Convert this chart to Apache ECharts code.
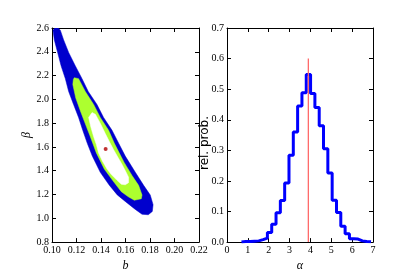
<!DOCTYPE html>
<html><head><meta charset="utf-8">
<script src="https://cdn.jsdelivr.net/npm/echarts@6/dist/echarts.min.js"></script>
<style>html,body{margin:0;padding:0;background:#fff}#c{width:415px;height:277px}</style>
</head><body><div id="c"></div>
<script>
// ---- left panel: confidence contours in (b, beta) ----
const contourOuter = [
  [0.1051,2.600],[0.1068,2.581],[0.1095,2.500],[0.1136,2.394],[0.1190,2.282],[0.1245,2.174],
  [0.1296,2.066],[0.1367,1.957],[0.1421,1.848],[0.1490,1.740],[0.1544,1.631],[0.1598,1.523],
  [0.1680,1.387],[0.1748,1.277],[0.1802,1.196],[0.1825,1.115],[0.1819,1.058],[0.1786,1.030],
  [0.1735,1.034],[0.1680,1.075],[0.1598,1.142],[0.1533,1.197],[0.1468,1.278],[0.1394,1.387],
  [0.1329,1.523],[0.1288,1.631],[0.1251,1.740],[0.1217,1.848],[0.1176,1.957],[0.1136,2.066],
  [0.1109,2.174],[0.1074,2.282],[0.1046,2.394],[0.1019,2.500],[0.1008,2.581],[0.1023,2.600]
];
const contourMiddle = [
  [0.1182,2.182],[0.1217,2.174],[0.1272,2.066],[0.1340,1.957],[0.1394,1.848],[0.1462,1.740],
  [0.1509,1.631],[0.1562,1.523],[0.1590,1.468],[0.1653,1.360],[0.1707,1.277],[0.1735,1.196],
  [0.1729,1.164],[0.1672,1.152],[0.1623,1.181],[0.1566,1.224],[0.1505,1.305],[0.1427,1.414],
  [0.1362,1.550],[0.1313,1.686],[0.1272,1.794],[0.1231,1.905],[0.1194,2.011],[0.1170,2.125],
  [0.1174,2.166]
];
const contourInner = [
  [0.1327,1.889],[0.1354,1.875],[0.1394,1.800],[0.1435,1.712],[0.1468,1.645],[0.1503,1.577],
  [0.1537,1.515],[0.1571,1.455],[0.1598,1.401],[0.1625,1.346],[0.1625,1.300],[0.1598,1.282],
  [0.1566,1.286],[0.1531,1.319],[0.1484,1.368],[0.1449,1.414],[0.1411,1.482],[0.1380,1.550],
  [0.1362,1.620],[0.1340,1.686],[0.1317,1.767],[0.1299,1.848]
];
const bestFit = [0.1438, 1.582];
const bTickLabels = ['0.10','0.12','0.14','0.16','0.18','0.20','0.22'];
const betaTickLabels = ['0.8','1.0','1.2','1.4','1.6','1.8','2.0','2.2','2.4','2.6'];

// ---- right panel: histogram of alpha ----
const histStart = 0.695;
const histBinWidth = 0.207;
const histValues = [0.002,0.002,0.003,0.004,0.008,0.013,0.031,0.058,0.096,0.136,
                    0.193,0.284,0.360,0.445,0.488,0.548,0.486,0.440,0.380,0.305,
                    0.226,0.137,0.097,0.052,0.027,0.011,0.010,0.004,0.002,0.001];
const alphaBest = 3.9;
const alphaLineTop = 0.6;
const alphaTickLabels = ['0','1','2','3','4','5','6','7'];
const probTickLabels = ['0.0','0.1','0.2','0.3','0.4','0.5','0.6','0.7'];

const stepPts = [[histStart, 0]];
histValues.forEach((v, i) => {
  stepPts.push([histStart + i * histBinWidth, v]);
  stepPts.push([histStart + (i + 1) * histBinWidth, v]);
});
stepPts.push([histStart + histValues.length * histBinWidth, 0]);

const serif = 'Liberation Serif';
const lblStyle = {fontFamily: serif, fontSize: 10, color: '#000'};
const axLine = {show: true, onZero: false, lineStyle: {color: '#000', width: 1}};
const tick = {show: true, inside: true, length: 4, lineStyle: {color: '#000', width: 1}};

function mkX(grid, min, max, interval, labels, pos, name) {
  return {
    type: 'value', gridIndex: grid, min: min, max: max, interval: interval, position: pos,
    axisLine: axLine, axisTick: tick, splitLine: {show: false},
    axisLabel: pos === 'bottom' ? Object.assign({show: true, margin: 3,
      formatter: v => labels[Math.round((v - min) / interval)] || ''}, lblStyle) : {show: false},
    name: name || '', nameLocation: 'middle', nameGap: 8,
    nameTextStyle: {fontFamily: serif, fontStyle: 'italic', fontSize: 12, color: '#000'}
  };
}
function mkY(grid, min, max, interval, labels, pos, name, nameStyle, gap) {
  return {
    type: 'value', gridIndex: grid, min: min, max: max, interval: interval, position: pos,
    axisLine: axLine, axisTick: tick, splitLine: {show: false},
    axisLabel: pos === 'left' ? Object.assign({show: true, margin: 3,
      formatter: v => labels[Math.round((v - min) / interval)] || ''}, lblStyle) : {show: false},
    name: name || '', nameLocation: 'middle', nameGap: gap || 15,
    nameTextStyle: nameStyle
  };
}

function polySeries(poly, color, z) {
  return {
    type: 'custom', xAxisIndex: 0, yAxisIndex: 0, clip: true, z: z, silent: true,
    data: [[poly[0][0], poly[0][1]]],
    renderItem: (params, api) => ({
      type: 'polygon',
      shape: {points: poly.map(p => api.coord(p))},
      style: {fill: color, stroke: color, lineWidth: 0.5}
    })
  };
}

const chart = echarts.init(document.getElementById('c'), null, {renderer: 'canvas'});
chart.setOption({
  animation: false,
  backgroundColor: '#fff',
  grid: [
    {left: 52, top: 28, width: 147, height: 221},
    {left: 227, top: 28, width: 146, height: 221}
  ],
  graphic: [{
    type: 'text', x: 205, y: 143, rotation: Math.PI / 2, silent: true,
    style: {text: 'rel. prob.', fontFamily: 'DejaVu Sans', fontSize: 12, fill: '#000',
            align: 'center', verticalAlign: 'middle'}
  }],
  xAxis: [
    mkX(0, 0.10, 0.22, 0.02, bTickLabels, 'bottom', 'b'),
    mkX(0, 0.10, 0.22, 0.02, bTickLabels, 'top'),
    mkX(1, 0, 7, 1, alphaTickLabels, 'bottom', 'α'),
    mkX(1, 0, 7, 1, alphaTickLabels, 'top')
  ],
  yAxis: [
    mkY(0, 0.8, 2.6, 0.2, betaTickLabels, 'left', 'β',
        {fontFamily: serif, fontStyle: 'italic', fontSize: 12, color: '#000'}, 16),
    mkY(0, 0.8, 2.6, 0.2, betaTickLabels, 'right'),
    mkY(1, 0, 0.7, 0.1, probTickLabels, 'left'),
    mkY(1, 0, 0.7, 0.1, probTickLabels, 'right')
  ],
  series: [
    polySeries(contourOuter, '#0000cd', 1),
    polySeries(contourMiddle, '#adff2f', 2),
    polySeries(contourInner, '#ffffff', 3),
    {
      type: 'scatter', xAxisIndex: 0, yAxisIndex: 0, z: 5,
      data: [bestFit], symbol: 'circle', symbolSize: 4,
      itemStyle: {color: '#b00000'}
    },
    {
      type: 'line', xAxisIndex: 2, yAxisIndex: 2, z: 3,
      data: stepPts, showSymbol: false, symbol: 'none',
      lineStyle: {color: '#0000ff', width: 3}
    },
    {
      type: 'line', xAxisIndex: 2, yAxisIndex: 2, z: 4,
      data: [[alphaBest, 0], [alphaBest, alphaLineTop]], showSymbol: false, symbol: 'none',
      lineStyle: {color: '#ff6a6a', width: 1.3}
    }
  ]
});
</script></body></html>
